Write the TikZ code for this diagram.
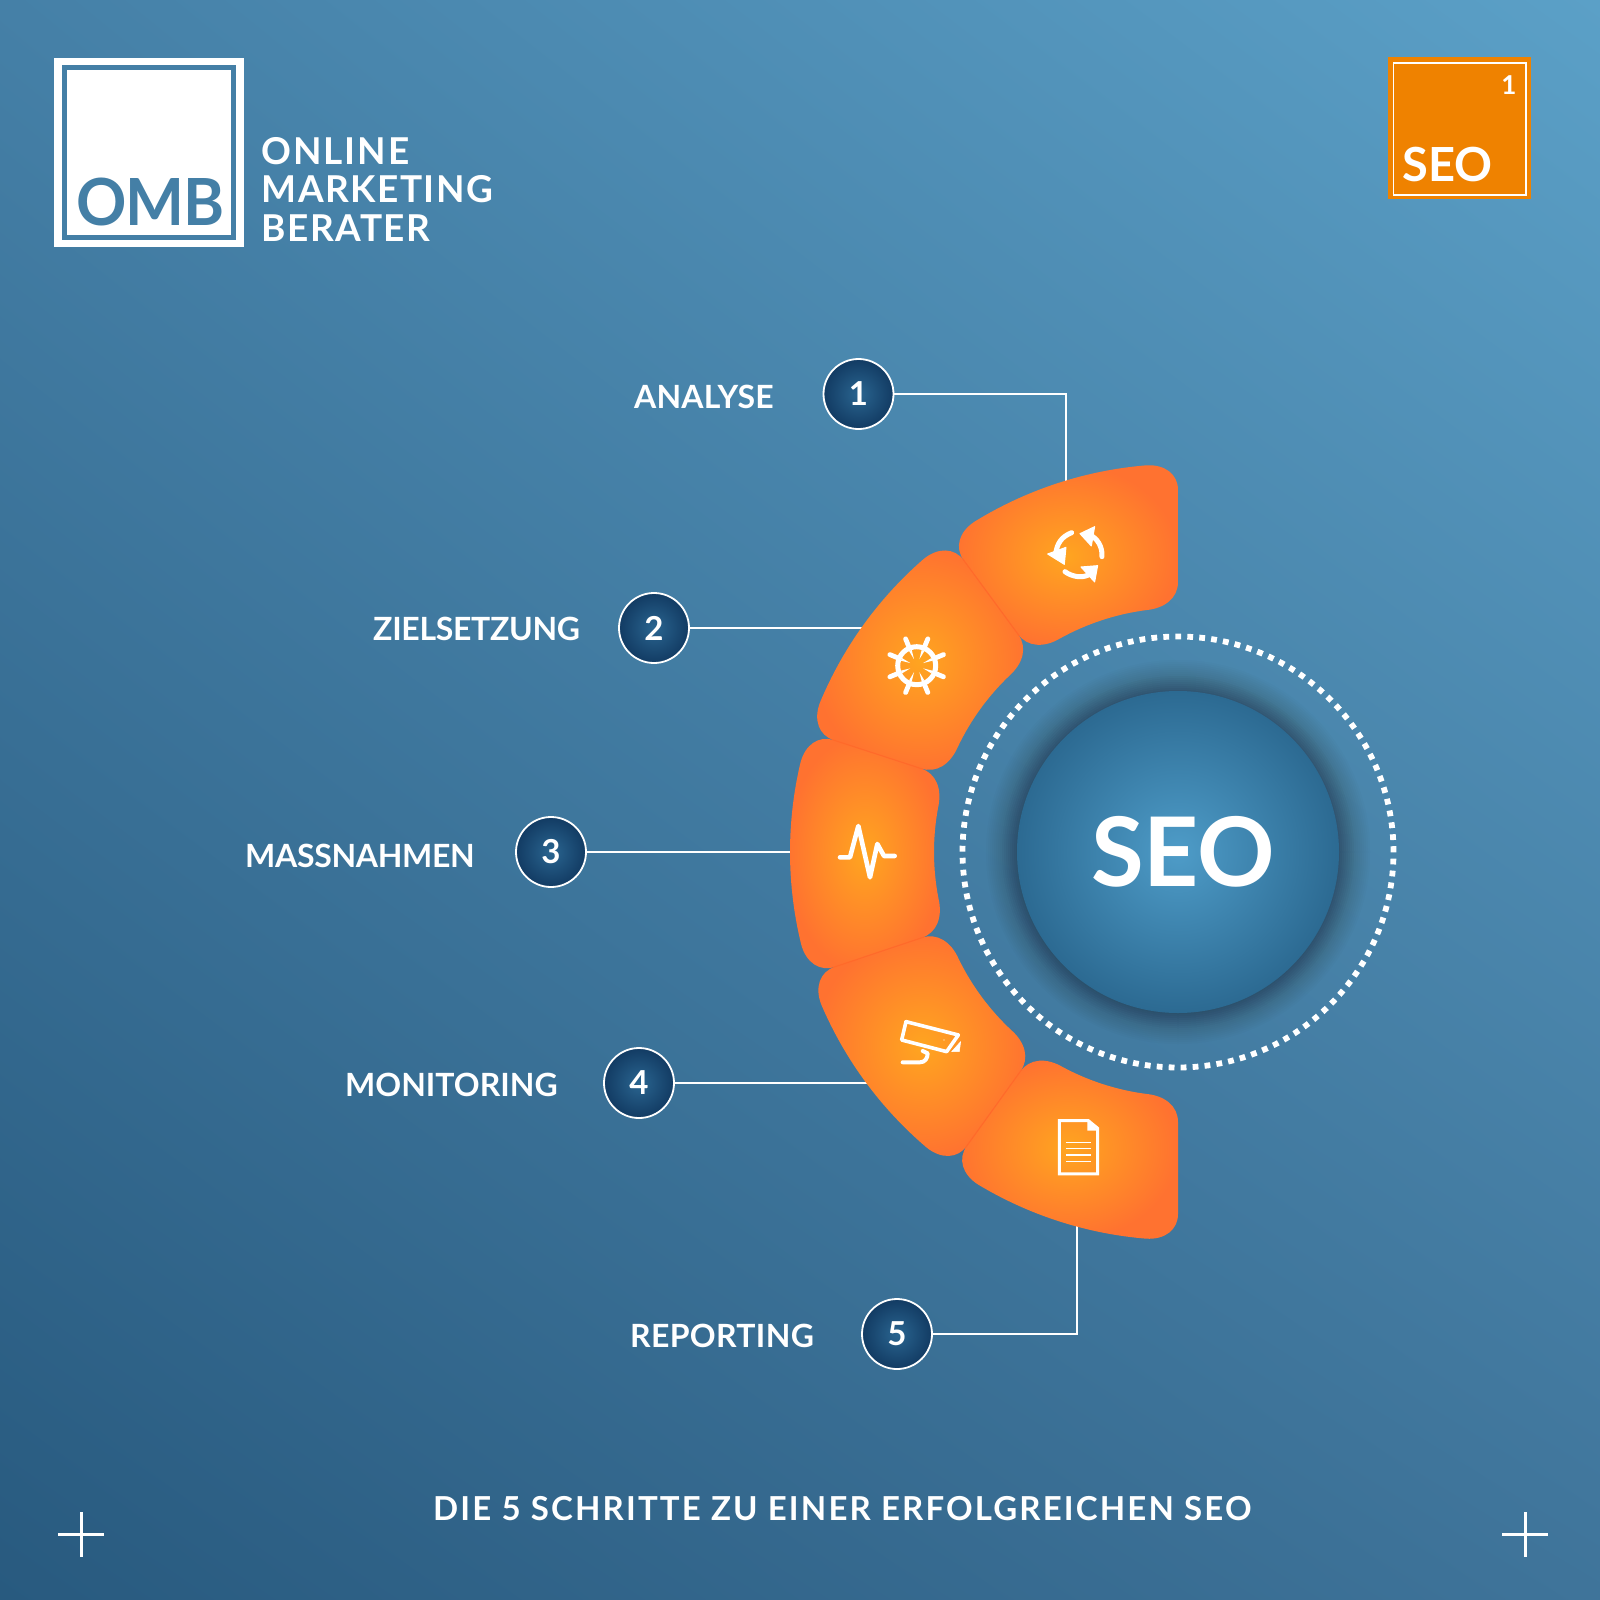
\documentclass[tikz,border=0pt]{standalone}
\usepackage{fontspec}
\usetikzlibrary{shadings}
\setmainfont{Lato}
\definecolor{bgTR}{HTML}{5BA0C7}
\definecolor{bgTL}{HTML}{4580A7}
\definecolor{bgBL}{HTML}{285A7F}
\definecolor{bgBR}{HTML}{3F749A}
\definecolor{omb}{HTML}{447FA6}
\definecolor{badgeor}{HTML}{EF8200}
\definecolor{segin}{HTML}{FFA520}
\definecolor{segout}{HTML}{FF7230}
\definecolor{segline}{HTML}{FF6A2A}
\definecolor{circin}{HTML}{4E9CC8}
\definecolor{circout}{HTML}{2C6A92}
\definecolor{numin}{HTML}{2A6590}
\definecolor{numout}{HTML}{123B63}
\definecolor{shadowc}{HTML}{1E2228}
\newcommand\segshape[2]{%
  ({#1+4.7}:388) arc[start angle={#1+4.7},end angle={#2-4.7},radius=388]
  .. controls ({#2-1.9}:388) and ({#2}:377.6) .. ({#2}:362)
  -- ({#2}:270)
  .. controls ({#2}:254.4) and ({#2-3}:244) .. ({#2-7.5}:244)
  arc[start angle={#2-7.5},end angle={#1+7.5},radius=244]
  .. controls ({#1+3}:244) and ({#1}:254.4) .. ({#1}:270)
  -- ({#1}:362)
  .. controls ({#1}:377.6) and ({#1+1.9}:388) .. cycle}
\newcommand\txt[2]{\fontsize{#1}{#1}\selectfont\bfseries\addfontfeatures{LetterSpace=#2}}
\tikzset{
  lab/.style={anchor=base west,inner sep=0,text=white},
  numbadge/.style={circle,draw=white,line width=1.8pt,minimum size=70pt,inner sep=0,
    inner color=numin,outer color=numout,text=white,font=\fontsize{33}{33}\selectfont\bfseries},
  conn/.style={draw=white,line width=1.5pt},
  seg/.style={inner color=segin,outer color=segout},
  icon/.style={draw=white,fill=none,line cap=round,line join=round},
  iconfill/.style={fill=white,draw=white,line join=round,line width=1pt},
  crossmark/.style={draw=white,line width=3pt},
}
\begin{document}
\begin{tikzpicture}[x=1pt,y=1pt]
\useasboundingbox (0,0) rectangle (1600,-1600);
% background
\shade[upper right=bgTR,upper left=bgTL,lower left=bgBL,lower right=bgBR] (0,0) rectangle (1600,-1600);

% logo
\fill[white] (54,-58) rectangle (244,-247);
\fill[omb] (62,-65) rectangle (236,-240);
\fill[white] (67,-70) rectangle (231,-235);
\node[lab,text=omb,font=\txt{65}{-2}] (omb) at (76,-225) {\scalebox{.96}[1]{OMB}};
\node[lab,font=\txt{37}{5}] (l1) at (261.5,-164.5) {ONLINE};
\node[lab,font=\txt{37}{4}] (l2) at (261.5,-202.5) {MARKETING};
\node[lab,font=\txt{37}{4}] (l3) at (261.5,-241) {BERATER};

% SEO badge
\fill[badgeor] (1388,-57) rectangle (1531,-199);
\draw[white,line width=1.4pt] (1393.5,-63) rectangle (1526,-195);
\node[lab,font=\txt{47}{0}] (bseo) at (1402,-181) {SEO};
\node[lab,anchor=base,font=\fontsize{26}{26}\selectfont\bfseries] (bone) at (1509,-95) {1};

% centre
\coordinate (ctr) at (1178,-852);
\foreach \r in {162,164,...,192}{\fill[shadowc,opacity=.018] (ctr) circle[radius=\r];}
\foreach \r in {162,164,...,176}{\fill[shadowc,opacity=.018] (ctr) circle[radius=\r];}
\draw[white,line width=5.8pt,dash pattern=on 5.8pt off 6.18pt] (ctr) circle[radius=215.5];
\node[circle,inner color=circin,outer color=circout,minimum size=322pt,inner sep=0] (hub) at (ctr) {};
\node[lab,font=\txt{96}{0}] (hubt) at (1091,-886) {SEO};

% badges, labels
\node[numbadge] (b1) at (858.5,-394) {1};
\node[numbadge] (b2) at (654,-628) {2};
\node[numbadge] (b3) at (551,-852) {3};
\node[numbadge] (b4) at (639,-1083) {4};
\node[numbadge] (b5) at (897,-1334) {5};
\node[lab,font=\txt{32}{.5}] (t1) at (634,-408) {ANALYSE};
\node[lab,font=\txt{32}{-1}] (t2) at (373,-640) {ZIELSETZUNG};
\node[lab,font=\txt{32}{-1}] (t3) at (245,-867) {MASSNAHMEN};
\node[lab,font=\txt{32}{0}] (t4) at (345,-1096) {MONITORING};
\node[lab,font=\txt{32}{1}] (t5) at (630,-1347) {REPORTING};

% connector ends
\coordinate (c1) at (1066,-490);
\coordinate (c2) at (880,-628);
\coordinate (c3) at (800,-852);
\coordinate (c4) at (880,-1083);
\coordinate (c5) at (1077,-1220);
\draw[conn] (b1.east) -| (c1);
\draw[conn] (b2.east) -- (c2);
\draw[conn] (b3.east) -- (c3);
\draw[conn] (b4.east) -- (c4);
\draw[conn] (b5.east) -| (c5);

% segments
\begin{scope}[shift={(1178,-852)}]
\shade[seg] \segshape{90}{126.3};
\shade[seg] \segshape{126.3}{162};
\shade[seg] \segshape{162}{198.5};
\shade[seg] \segshape{198.5}{234.3};
\shade[seg] \segshape{234.3}{270};
\foreach \a in {126.3,162,198.5,234.3}{\draw[segline,line width=1.1pt] (\a:268) -- (\a:364);}
\end{scope}

% icon 1 (crop scale 1/3)
\begin{scope}[shift={(760,-440)},x=.3333pt,y=-.3333pt]
\draw[icon,line width=5pt] (935,278) .. controls (905,290) and (890,310) .. (887,345);
\draw[icon,line width=5pt] (1026,350) .. controls (1028,320) and (1012,295) .. (990,285);
\draw[icon,line width=5pt] (915,395) .. controls (935,410) and (965,415) .. (985,405);
\fill[iconfill] (863,342) -- (913,373) -- (918,322) -- cycle;
\fill[iconfill] (960,281) -- (1004,260) -- (994,318) -- cycle;
\fill[iconfill] (963,381) -- (1013,377) -- (1004,426) -- cycle;
\end{scope}
% wheel
\begin{scope}[shift={(916.7,-665.7)}]
\draw[icon,line width=5pt] (0,0) circle[radius=19];
\foreach \a in {22.5,67.5,...,360}{
  \draw[icon,line width=4.8pt] (\a:19) -- (\a:29);
  \fill[white] ({\a-5}:16.5) -- ({\a+5}:16.5) -- (\a:7) -- cycle;
}
\end{scope}

% icons 3, 4, 5 (crop scale 1/3)
\begin{scope}[shift={(770,-730)},x=.3333pt,y=-.3333pt]
\draw[icon,line width=4.6pt] (210,382) -- (240,382) -- (265,288) -- (300,442) -- (322,342) -- (342,378) -- (374,378);
\draw[icon,line width=3.6pt] (408,875) -- (565,915) -- (530,965) -- (395,930) -- cycle;
\fill[iconfill,line width=.5pt] (572,935) -- (568,965) -- (545,965) -- cycle;
\fill[white] (522,930) circle[radius=2];
\draw[icon,line width=4pt] (458,963) -- (473,970) .. controls (473,985) and (465,997) .. (450,997) -- (398,997);
\draw[icon,line width=3pt,line cap=butt,line join=miter] (868,1172) -- (955,1172) -- (983,1195) -- (983,1332) -- (868,1332) -- cycle;
\fill[white] (952,1172) -- (952,1202) -- (985,1202) -- cycle;
\foreach \yy in {1237,1256,1275,1295}{\draw[white,line width=1.2pt] (888,\yy) -- (962,\yy);}
\end{scope}

% title and crosses
\node[lab,font=\txt{33}{6.5}] (title) at (433,-1520) {DIE 5 SCHRITTE ZU EINER ERFOLGREICHEN SEO};
\path[crossmark] (81,-1512) -- (81,-1557) (58,-1534) -- (104,-1534);
\path[crossmark] (1525,-1512) -- (1525,-1557) (1502,-1534) -- (1548,-1534);
\end{tikzpicture}
\end{document}
